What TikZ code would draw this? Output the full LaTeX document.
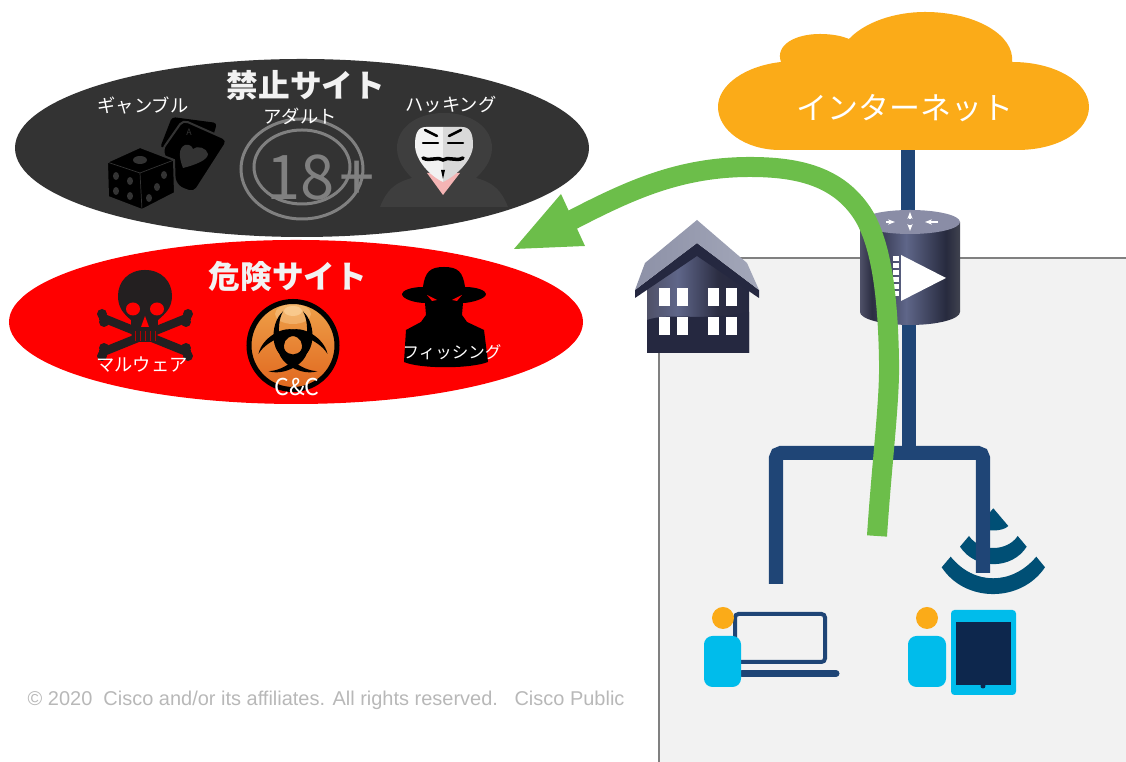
\documentclass[tikz,border=0pt]{standalone}
\usepackage{fontspec}
\setmainfont{Noto Sans CJK JP}
\newfontfamily\footfont{Liberation Sans}
\usepackage{xcolor}
\usetikzlibrary{calc, arrows.meta}

\definecolor{navyline}{HTML}{1F4576}
\definecolor{cloudorange}{HTML}{FBAB18}
\definecolor{arrowgreen}{HTML}{6CBE4A}
\definecolor{banblack}{HTML}{333333}
\definecolor{panelgrey}{HTML}{F2F2F2}
\definecolor{personblue}{HTML}{00BCEB}
\definecolor{wifiblue}{HTML}{004F75}
\definecolor{screennavy}{HTML}{0D274D}
\definecolor{skullblack}{HTML}{231F20}
\definecolor{housedark}{HTML}{252840}
\definecolor{steelone}{HTML}{4F5168}
\definecolor{steeltwo}{HTML}{2B2D42}
\definecolor{steelthree}{HTML}{5F6689}
\definecolor{steelfour}{HTML}{272A3E}
\definecolor{steelfive}{HTML}{40434F}
\definecolor{roofgrey}{HTML}{8D91A7}
\definecolor{roofpale}{HTML}{A3A7B9}
\definecolor{routertop}{HTML}{8A8DA6}
\definecolor{balltop}{HTML}{EFA24A}
\definecolor{ballbottom}{HTML}{E0661E}
\definecolor{ballglow}{HTML}{FFE0B0}
\definecolor{hoodgrey}{HTML}{3E3E3E}
\definecolor{maskpink}{HTML}{F4B4B4}

\pgfdeclarehorizontalshading{routerbody}{100bp}{color(0bp)=(steelone);color(25bp)=(steelone);color(31bp)=(steeltwo);color(48bp)=(steelthree);color(68bp)=(steelfour);color(75bp)=(steelfive);color(100bp)=(steelfive)}
\pgfdeclarehorizontalshading{housebody}{100bp}{color(0bp)=(steelone);color(25bp)=(steelone);color(40bp)=(steelthree);color(60bp)=(steeltwo);color(75bp)=(housedark);color(100bp)=(housedark)}

\tikzset{
	link/.style = {navyline, line width = 0.14cm},
	person/.style = {fill = personblue, rounded corners = 2.4pt},
	head/.style = {fill = cloudorange},
	site/.style = {text = white, font = \fontsize{5.2}{6}\selectfont, inner sep = 0pt},
	title/.style = {text = white!95!black, font = \fontsize{9}{10}\selectfont\bfseries, inner sep = 0pt},
	window/.style = {fill = white},
	wave/.style = {fill = wifiblue},
	bone/.style = {skullblack, line width = 0.085cm, line cap = round},
	mask line/.style = {black, line width = 0.025cm, line cap = round},
}

\begin{document}
\begin{tikzpicture}[x = 0.01cm, y = -0.01cm]
	\useasboundingbox (0, 0) rectangle (1126, 762);
	
	\coordinate (cloud bottom) at (908, 150);
	\coordinate (router top) at (908, 215);
	\coordinate (router bottom) at (909, 320);
	\coordinate (branch) at (909, 453);
	\coordinate (laptop link) at (776, 584);
	\coordinate (tablet link) at (983, 573);
	
	% panel
	\fill [panelgrey] (659, 258) rectangle (1126, 762);
	\draw [black!50, line width = 0.3pt] (1126, 258) -- (659, 258) -- (659, 762);
	
	% the two ellipses
	\fill [banblack] (302, 148) ellipse [x radius = 287, y radius = 89];
	\fill [red] (296, 322) ellipse [x radius = 287, y radius = 82];
	
	% dice and cards
	\fill [black, rounded corners = 1pt] (172, 117) -- (217, 123) -- (212, 140) -- (160, 148) -- cycle;
	\draw [banblack, line width = 0.02cm, fill = black, rounded corners = 1.5pt] (183, 120) -- (228, 140) -- (194, 193) -- (178, 187) -- (162, 150) -- cycle;
	\fill [banblack] (183, 168) .. controls (179, 158) and (178, 148) .. (185, 145) .. controls (189, 144) and (192, 146) .. (193, 149) .. controls (197, 145) and (207, 148) .. (208, 154) .. controls (208, 160) and (195, 165) .. (183, 168) -- cycle;
	\node (card letter) [text = banblack, font = \fontsize{2.5}{3}\selectfont, inner sep = 0pt] at (189, 132) {A};
	\draw [banblack, line width = 0.02cm, fill = black] (140, 147) -- (107, 162) -- (108, 197) -- (142, 210) -- (175, 193) -- (174, 160) -- cycle;
	\draw [banblack, line width = 0.2pt] (107, 162) -- (140, 173) -- (174, 160) (140, 173) -- (142, 210);
	\fill [banblack] (140, 160) ellipse [x radius = 7, y radius = 4];
	\foreach \pipx/\pipy in {116/176, 130/181, 116/191, 130/196, 164/175, 157/187, 149/198} {
		\fill [banblack] (\pipx, \pipy) ellipse [x radius = 3, y radius = 4];
	}
	
	% 18+ sign
	\draw [black!50, line width = 0.03cm] (302, 169) ellipse [x radius = 61, y radius = 50];
	\draw [black!50, line width = 0.03cm] (302, 167) ellipse [x radius = 48, y radius = 37];
	\node (adult sign) [text = black!50, font = \rmfamily\fontsize{17.5}{18}\selectfont, inner sep = 0pt] at (301, 178) {18};
	\node (adult plus) [text = black!50, font = \rmfamily\fontsize{18}{19}\selectfont, inner sep = 0pt] at (357, 181) {+};
	
	% hooded mask
	\fill [hoodgrey] (444, 113) .. controls (472, 113) and (492, 128) .. (492, 148) .. controls (492, 162) and (482, 172) .. (476, 178) .. controls (495, 183) and (502, 192) .. (508, 207) -- (380, 207) .. controls (386, 192) and (393, 183) .. (412, 178) .. controls (406, 172) and (397, 162) .. (397, 148) .. controls (397, 128) and (416, 113) .. (444, 113) -- cycle;
	\fill [maskpink] (427, 173) -- (443, 195) -- (460, 173) -- cycle;
	\fill [white!95!black] (443, 127) -- (426, 127) .. controls (417, 127) and (415, 135) .. (415, 145) .. controls (415, 160) and (430, 176) .. (443, 182) -- cycle;
	\fill [white!85!black] (443, 127) -- (462, 127) .. controls (471, 127) and (473, 135) .. (473, 145) .. controls (473, 160) and (456, 176) .. (443, 182) -- cycle;
	\draw [mask line] (425, 130) -- (437, 136) (461, 130) -- (449, 136);
	\draw [mask line] (423, 143) -- (438, 143) (463, 143) -- (448, 143);
	\draw [mask line, line width = 0.035cm] (423, 158) .. controls (430, 162) and (438, 156) .. (443, 160) .. controls (448, 156) and (456, 162) .. (463, 158);
	\fill [black] (441, 170) -- (445, 170) -- (443, 179) -- cycle;
	
	% skull
	\draw [bone] (103, 318) -- (187, 352);
	\draw [bone] (187, 318) -- (103, 352);
	\foreach \endx/\endy in {102/314, 104/322, 188/314, 186/322, 102/356, 104/348, 188/356, 186/348} {
		\fill [skullblack] (\endx, \endy) circle [radius = 5];
	}
	\fill [skullblack] (145, 270) .. controls (162, 270) and (172, 282) .. (172, 296) .. controls (172, 308) and (165, 314) .. (158, 320) -- (157, 342) -- (132, 342) -- (131, 320) .. controls (124, 314) and (118, 308) .. (118, 296) .. controls (118, 282) and (128, 270) .. (145, 270) -- cycle;
	\fill [red] (133, 309) ellipse [x radius = 7, y radius = 6.5];
	\fill [red] (157, 309) ellipse [x radius = 7, y radius = 6.5];
	\fill [red] (145, 316) -- (149, 327) -- (141, 327) -- cycle;
	\foreach \toothx in {135, 140, 145, 150, 155} {
		\draw [red!70!black, line width = 0.2pt] (\toothx, 331) -- (\toothx, 341);
	}
	
	% biohazard ball
	\shade [top color = balltop, bottom color = ballbottom] (293, 345.5) circle [radius = 45];
	\fill [ballglow, opacity = 0.35] (293, 314) ellipse [x radius = 18, y radius = 10];
	\fill [ballglow, opacity = 0.5] (293, 311) ellipse [x radius = 9, y radius = 5];
	\draw [black, line width = 0.05cm] (293, 345.5) circle [radius = 44];
	\draw [black, line width = 0.04cm] (293, 345.5) circle [radius = 14];
	\foreach \bioangle in {0, 120, 240} {
		\begin{scope}[shift = {(293, 345.5)}, rotate = \bioangle]
			\fill [black] (-10, -34) .. controls (-24, -22) and (-24, 14) .. (0, 14) .. controls (24, 14) and (24, -22) .. (10, -34) .. controls (18, -20) and (14, 9) .. (0, 9) .. controls (-14, 9) and (-18, -20) .. (-10, -34) -- cycle;
		\end{scope}
	}
	
	% spy
	\fill [black] (423, 287) .. controls (425, 272) and (430, 267) .. (444, 267) .. controls (458, 267) and (463, 272) .. (465, 287) .. controls (478, 287) and (486, 291) .. (486, 294) .. controls (486, 299) and (470, 303) .. (463, 303) -- (462, 315) -- (467, 322) -- (484, 330) -- (488, 362) .. controls (470, 369) and (420, 369) .. (404, 362) -- (406, 330) -- (421, 322) -- (426, 315) -- (425, 303) .. controls (415, 303) and (402, 299) .. (402, 294) .. controls (402, 291) and (410, 287) .. (423, 287) -- cycle;
	\fill [red] (427, 295) -- (437, 300) -- (432, 301) -- cycle;
	\fill [red] (462, 295) -- (452, 300) -- (457, 301) -- cycle;
	
	% labels of the sites
	\node (ban title) [title] at (306, 85) {禁止サイト};
	\node (gamble) [site] at (143, 106) {ギャンブル};
	\node (adult) [site] at (300, 116) {アダルト};
	\node (hacking) [site] at (451, 105) {ハッキング};
	\node (danger title) [title] at (288, 277) {危険サイト};
	\node (malware) [site] at (142, 365) {マルウェア};
	\node (candc) [site, font = \fontsize{6.6}{7}\selectfont] at (297, 387) {C\&C};
	\node (phishing) [site, font = \fontsize{4.7}{6}\selectfont] at (452, 352) {フィッシング};
	
	% links
	\draw [link] (cloud bottom) -- (router top);
	\draw [link] (router bottom) -- (branch);
	\fill [wave] (941.7, 567.3) .. controls (965, 603) and (1021, 603) .. (1045, 567.3) -- (1036.3, 556.7) .. controls (1012, 585.5) and (974, 585.5) .. (950.7, 556.7) -- cycle;
	\fill [wave] (960, 546.7) .. controls (975, 570) and (1012, 570) .. (1026.7, 546.7) -- (1017.7, 536) .. controls (1007, 552) and (980, 552) .. (969, 536) -- cycle;
	\fill [wave] (993.3, 508.3) -- (1008.3, 526) .. controls (1003, 532) and (984, 532) .. (978.3, 526) -- cycle;
	\draw [link, rounded corners = 1.4pt] (laptop link) |- (branch);
	\draw [link, rounded corners = 1.4pt] (tablet link) |- (branch);
	
	% cloud
	\fill [cloudorange] (780, 150) .. controls (745, 150) and (718, 130) .. (718, 107) .. controls (718, 85) and (745, 66) .. (781, 62) .. controls (775, 45) and (795, 34) .. (820, 34) .. controls (832, 34) and (842, 36) .. (849, 39) .. controls (865, 22) and (895, 12) .. (925, 12) .. controls (975, 12) and (1015, 35) .. (1012, 62) .. controls (1055, 62) and (1089, 82) .. (1089, 107) .. controls (1089, 130) and (1060, 150) .. (1017, 150) -- cycle;
	\node (internet) [text = white, font = \fontsize{8.8}{10}\selectfont, inner sep = 0pt] at (905, 108) {インターネット};
	
	% router
	\shade [shading = routerbody] (860, 222) -- (860, 312) .. controls (860, 319) and (882, 325) .. (910, 325) .. controls (938, 325) and (960, 319) .. (960, 312) -- (960, 222) -- cycle;
	\fill [routertop] (910, 222) ellipse [x radius = 50, y radius = 12];
	\foreach \tipx/\tipy/\tailx/\taily in {910/212/910/219, 910/231/910/225, 895/222/886/222, 925/222/938/222} {
		\draw [white, line width = 0.5pt, -{Stealth[length = 2pt]}] (\tailx, \taily) -- (\tipx, \tipy);
	}
	\fill [white] (901, 255) -- (946, 278) -- (901, 301) -- cycle;
	\foreach \celly in {256, 263, 270, 277, 284, 291} {
		\fill [white] (893, \celly) rectangle ++(6, 5);
	}
	
	% house
	\shade [shading = housebody] (647, 285) -- (697, 250) -- (749, 285) -- (749, 353) -- (647, 353) -- cycle;
	\fill [housedark] (647, 320) .. controls (670, 312) and (700, 322) .. (749, 312) -- (749, 353) -- (647, 353) -- cycle;
	\fill [housedark] (635, 290) -- (697, 243) -- (759, 290) -- (759, 298) -- (697, 256) -- (635, 298) -- cycle;
	\shade [left color = roofgrey, right color = roofpale] (697, 220) -- (747, 263) -- (759, 290) -- (697, 243) -- (635, 290) -- (645, 263) -- cycle;
	\foreach \winx in {659, 677, 708, 726} {
		\foreach \winy in {288, 317} {
			\fill [window] (\winx, \winy) rectangle ++(11, 18);
		}
	}
	
	% green arrow
	\coordinate (arrow start) at (877, 536);
	\coordinate (arrow back) at (572, 220);
	\coordinate (arrow tip) at (514, 249);
	\draw [arrowgreen, line width = 0.2cm] (arrow start) .. controls (882, 460) and (890, 400) .. (889, 360) .. controls (888, 300) and (882, 240) .. (860, 210) .. controls (835, 175) and (795, 167) .. (750, 167) .. controls (680, 167) and (630, 190) .. (arrow back);
	\fill [arrowgreen] (arrow tip) -- (561, 194) -- (585, 246) -- cycle;
	
	% people and devices
	\draw [navyline, line width = 0.04cm, rounded corners = 1pt] (735, 614) rectangle (825, 662);
	\draw [navyline, line width = 0.07cm, line cap = round] (742, 673.5) -- (836, 673.5);
	\fill [head] (723, 618) circle [radius = 11];
	\fill [person] (704, 636) rectangle (741, 687);
	\fill [head] (927, 618) circle [radius = 11];
	\fill [person] (908, 636) rectangle (946, 687);
	\fill [person, rounded corners = 1pt] (951, 610) rectangle (1016, 695);
	\fill [screennavy] (956, 622) rectangle (1011, 685);
	\fill [screennavy] (983, 686) circle [radius = 2.5];
	
	% footer
	\node (footer) [text = black!28, font = \footfont\fontsize{5.68}{6}\selectfont, inner sep = 0pt, anchor = west] at (27, 700) {© 2020\ \ Cisco and/or its affiliates. All rights reserved.\ \ \ Cisco Public};
\end{tikzpicture}
\end{document}
